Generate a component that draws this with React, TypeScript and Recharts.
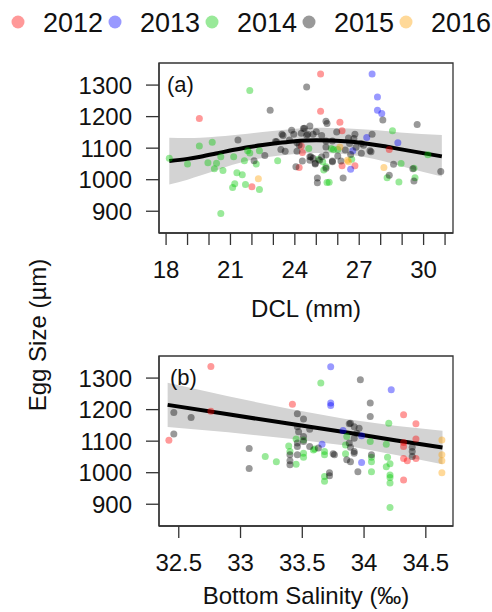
import { ComposedChart, Scatter, Line, Area, XAxis, YAxis, Label, ReferenceArea } from 'recharts';

const YEARS = ['2012', '2013', '2014', '2015', '2016'];
const COLORS = ['#FF0000', '#0000FF', '#00C800', '#000000', '#FFA000'];

// (a) egg size vs DCL, one list per year: [DCL, egg size]
const dcl2012 = [
  [19.55, 1194], [22.0, 978], [24.3, 1107], [24.35, 1086], [24.2, 1039], [25.2, 1335],
  [25.2, 1217], [26.1, 1182], [26.2, 1155], [28.4, 1096], [26.2, 1044], [26.8, 1044],
];
const dcl2013 = [
  [27.6, 1335], [27.85, 1262], [27.85, 1220], [28.05, 1210], [27.35, 1134], [28.8, 1117],
  [26.6, 1033], [26.7, 1092],
];
const dcl2014 = [
  [18.15, 1068], [19.0, 1050], [19.55, 1107], [20.15, 1119], [19.95, 1054], [20.25, 1035],
  [20.35, 1052], [20.55, 1073], [20.65, 1029], [20.55, 893], [21.15, 1073], [21.3, 1022],
  [21.55, 1016], [21.2, 987], [21.1, 975], [21.9, 1283], [21.65, 1060], [21.8, 1092],
  [21.9, 1085], [21.7, 985], [22.35, 969], [22.2, 1050], [22.35, 1092], [23.2, 1060],
  [24.65, 1099], [25.3, 1057], [25.35, 1031], [25.5, 991], [25.7, 1099], [26.0, 1096],
  [26.65, 1065], [25.1, 1065], [25.8, 1096], [25.6, 992], [25.45, 1041], [28.55, 1155],
  [30.2, 1079], [28.95, 1051], [29.55, 1036], [28.3, 1006], [28.85, 993], [29.6, 1006],
];
const dcl2015 = [
  [21.35, 1126], [22.1, 1060], [22.6, 1077], [22.85, 1220], [23.1, 1121], [23.45, 1140],
  [23.35, 1096], [23.55, 1090], [23.85, 1157], [23.95, 1144], [24.1, 1090], [24.2, 1110],
  [24.05, 1041], [24.35, 1059], [24.4, 1162], [24.55, 1294], [24.6, 1144], [24.7, 1073],
  [24.85, 1068], [25.05, 1005], [24.95, 1050], [25.15, 1062], [25.0, 1152], [25.45, 1185],
  [25.5, 1178], [25.95, 1151], [24.45, 1163], [24.7, 1170], [25.25, 1140], [24.85, 1144],
  [26.8, 1144], [26.75, 1131], [26.5, 1132], [27.6, 1144], [28.1, 1189], [29.7, 1175],
  [30.8, 1026], [28.6, 1049], [29.5, 1035], [28.4, 1014], [29.55, 996], [24.75, 1073],
  [24.95, 1052], [25.45, 1036], [25.45, 1078], [25.75, 1057], [26.15, 1059], [26.25, 1005],
  [27.1, 1084], [27.5, 1092], [27.2, 1109], [26.85, 1103], [24.55, 1141], [23.4, 1144],
  [23.15, 1120], [23.75, 1126], [24.3, 1147], [25.75, 1123], [25.45, 1123], [24.1, 1117],
  [25.25, 1073], [25.45, 1104], [26.35, 1094], [26.0, 1075], [25.75, 1059], [26.6, 1080],
  [26.55, 1115], [27.1, 1115], [27.55, 1089], [25.05, 990], [24.7, 1062],
];
const dcl2016 = [[22.3, 1003], [28.15, 1039], [26.5, 1057], [26.1, 1104], [26.45, 1062]];

// loess fit + 95% band for (a)
const dclFitX = [18.15, 19.0, 19.6, 20.4, 21.1, 21.8, 22.5, 23.2, 23.9, 24.5, 25.0, 25.7, 26.5, 27.3, 28.1, 28.9, 29.9, 30.85];
const dclFit = [1059, 1066, 1073, 1084, 1094, 1103, 1110, 1116, 1121, 1124, 1125, 1124, 1121, 1115, 1107, 1097, 1085, 1074];
const dclLo = [985, 1000, 1013, 1031, 1047, 1060, 1069, 1076, 1081, 1084, 1085, 1084, 1080, 1071, 1059, 1044, 1026, 1010];
const dclHi = [1133, 1132, 1133, 1137, 1141, 1146, 1151, 1156, 1161, 1164, 1165, 1164, 1162, 1159, 1155, 1150, 1145, 1142];
const dclTicks = [18, 19, 20, 21, 22, 23, 24, 25, 26, 27, 28, 29, 30, 31];
const dclLabeled = [18, 21, 24, 27, 30];

// (b) egg size vs bottom salinity
const sal2012 = [
  [32.76, 1337], [32.76, 1195], [32.42, 1103], [33.42, 1217], [34.32, 1184], [34.42, 1155],
  [34.42, 1107], [34.32, 1096], [34.32, 1083], [34.32, 1045], [34.35, 1038], [34.42, 1045],
  [34.32, 977],
];
const sal2013 = [
  [33.73, 1336], [33.73, 1221], [33.73, 1213], [34.22, 1263], [33.83, 1134], [33.66, 1090],
  [33.98, 1117], [33.98, 1032],
];
const sal2014 = [
  [33.2, 1051], [33.29, 1035], [33.65, 1284], [33.45, 1107], [33.39, 1085], [33.4, 1067],
  [33.45, 1027], [33.51, 1104], [33.51, 1062], [33.51, 1049], [33.59, 1072], [33.6, 1075],
  [33.68, 1067], [33.68, 1057], [33.68, 988], [33.68, 973], [33.86, 1115], [33.85, 1088],
  [33.85, 1060], [34.05, 1099], [34.06, 1049], [34.06, 1035], [34.06, 1003], [34.2, 1157],
  [34.18, 1090], [34.19, 1049], [34.18, 1019], [34.21, 1028], [34.21, 993], [34.21, 985],
  [34.21, 967], [34.21, 890],
];
const sal2015 = [
  [32.46, 1191], [32.6, 1175], [32.46, 1123], [33.07, 1077], [33.07, 1013], [33.46, 1187],
  [33.51, 1170], [33.46, 1146], [33.47, 1130], [33.51, 1115], [33.51, 1099], [33.46, 1094],
  [33.46, 1083], [33.46, 1057], [33.4, 1057], [33.4, 1038], [33.4, 1025], [33.56, 1138],
  [33.56, 1083], [33.63, 1078], [33.75, 1060], [33.76, 1057], [33.72, 1000], [33.72, 990],
  [33.88, 1155], [33.89, 1157], [33.92, 1146], [33.96, 1141], [33.94, 1125], [33.92, 1109],
  [33.88, 1094], [33.89, 1081], [33.92, 1067], [33.92, 1062], [33.86, 1041], [33.89, 1035],
  [33.95, 1003], [33.97, 1295], [34.05, 1221], [34.05, 1178], [34.06, 1057], [34.39, 1081],
  [34.39, 1067], [34.39, 1051],
];
const sal2016 = [[34.63, 1104], [34.63, 1057], [34.63, 1038], [34.63, 1000]];

// linear fit + band for (b)
const salFitX = [32.41, 32.9, 33.4, 33.85, 34.25, 34.635];
const salFit = [1215, 1185, 1155, 1128, 1103, 1080];
const salLo = [1145, 1128, 1108, 1086, 1057, 1027];
const salHi = [1285, 1242, 1202, 1170, 1149, 1133];
const salTicks = [32.5, 33, 33.5, 34, 34.5];

const yTicks = [900, 1000, 1100, 1200, 1300];
const Y_DOMAIN: [number, number] = [831, 1370];

const FONT = '"Liberation Sans", Arial, sans-serif';
const INK = '#333';

const toPts = (arr: number[][]) => arr.map(([x, y]) => ({ x, y }));
const toFit = (xs: number[], fit: number[], lo: number[], hi: number[]) =>
  xs.map((x, i) => ({ x, fit: fit[i], band: [lo[i], hi[i]] }));

const Dot = (color: string) => (p: any) =>
  <circle cx={p.cx} cy={p.cy} r={3.5} fill={color} fillOpacity={0.4} />;

interface PanelProps {
  series: number[][][];
  fitRows: { x: number; fit: number; band: number[] }[];
  domain: [number, number];
  ticks: number[];
  fmt: (v: number) => string;
  title: string;
  curve: 'monotone' | 'linear';
  height: number;
  top: number;
  bottom: number;
  labelOffset: number;
}

const Panel = ({ series, fitRows, domain, ticks, fmt, title, curve, height, top, bottom, labelOffset }: PanelProps) => (
  <ComposedChart
    width={492}
    height={height}
    data={fitRows}
    margin={{ top, right: 39, left: 79, bottom: 0 }}
  >
    <XAxis
      dataKey="x"
      type="number"
      domain={domain}
      allowDataOverflow
      ticks={ticks}
      interval={0}
      tickFormatter={fmt}
      height={bottom}
      tickSize={12}
      tickMargin={16}
      axisLine={{ stroke: INK, strokeWidth: 1.3 }}
      tickLine={{ stroke: INK, strokeWidth: 1.3 }}
      tick={{ fontSize: 24, fill: '#111', fontFamily: FONT }}
    >
      <Label
        value={title}
        position="insideBottom"
        offset={labelOffset}
        style={{ fontSize: 24, fill: '#111', fontFamily: FONT }}
      />
    </XAxis>
    <YAxis
      type="number"
      domain={Y_DOMAIN}
      allowDataOverflow
      ticks={yTicks}
      interval={0}
      width={80}
      tickSize={13}
      tickMargin={14}
      axisLine={{ stroke: INK, strokeWidth: 1.3 }}
      tickLine={{ stroke: INK, strokeWidth: 1.3 }}
      tick={{ fontSize: 24, fill: '#111', fontFamily: FONT }}
    />
    <Area
      dataKey="band"
      type={curve}
      stroke="none"
      fill="#D3D3D3"
      fillOpacity={1}
      isAnimationActive={false}
    />
    {series.map((pts, i) => (
      <Scatter
        key={YEARS[i]}
        name={YEARS[i]}
        data={toPts(pts)}
        dataKey="y"
        shape={Dot(COLORS[i])}
        isAnimationActive={false}
      />
    ))}
    <Line
      dataKey="fit"
      type={curve}
      stroke="#000"
      strokeWidth={4}
      dot={false}
      activeDot={false}
      isAnimationActive={false}
    />
    {/* plot frame */}
    <ReferenceArea
      x1={domain[0]}
      x2={domain[1]}
      y1={Y_DOMAIN[0]}
      y2={Y_DOMAIN[1]}
      fill="none"
      stroke={INK}
      strokeWidth={1.3}
      ifOverflow="visible"
    />
  </ComposedChart>
);

const legendX = [18, 115, 212, 309, 406];

export default function App() {
  return (
    <div
      style={{
        position: 'absolute',
        left: 0,
        top: 0,
        width: 492,
        height: 612,
        background: '#fff',
        fontFamily: FONT,
      }}
    >
      <div style={{ position: 'absolute', left: 0, top: 0 }}>
        <Panel
          series={[dcl2012, dcl2013, dcl2014, dcl2015, dcl2016]}
          fitRows={toFit(dclFitX, dclFit, dclLo, dclHi)}
          domain={[17.67, 31.37]}
          ticks={dclTicks}
          fmt={(v) => (dclLabeled.includes(v) ? String(v) : '')}
          title="DCL (mm)"
          curve="monotone"
          height={330}
          top={63}
          bottom={97}
          labelOffset={13}
        />
      </div>
      <div style={{ position: 'absolute', left: 0, top: 300 }}>
        <Panel
          series={[sal2012, sal2013, sal2014, sal2015, sal2016]}
          fitRows={toFit(salFitX, salFit, salLo, salHi)}
          domain={[32.34, 34.72]}
          ticks={salTicks}
          fmt={(v) => String(v)}
          title="Bottom Salinity (‰)"
          curve="linear"
          height={312}
          top={56}
          bottom={86}
          labelOffset={8}
        />
      </div>
      <svg
        width={492}
        height={612}
        style={{ position: 'absolute', left: 0, top: 0, pointerEvents: 'none' }}
      >
        {YEARS.map((y, i) => (
          <g key={y}>
            <circle cx={legendX[i]} cy={22} r={6.5} fill={COLORS[i]} fillOpacity={0.4} />
            <text x={legendX[i] + 25} y={32} fontSize={27} fill="#111">{y}</text>
          </g>
        ))}
        <text x={167} y={92} fontSize={22} fill="#111">(a)</text>
        <text x={170} y={385} fontSize={22} fill="#111">(b)</text>
        <text
          x={0}
          y={0}
          fontSize={24}
          fill="#111"
          textAnchor="middle"
          transform="translate(46 335) rotate(-90)"
        >
          Egg Size (µm)
        </text>
      </svg>
    </div>
  );
}
